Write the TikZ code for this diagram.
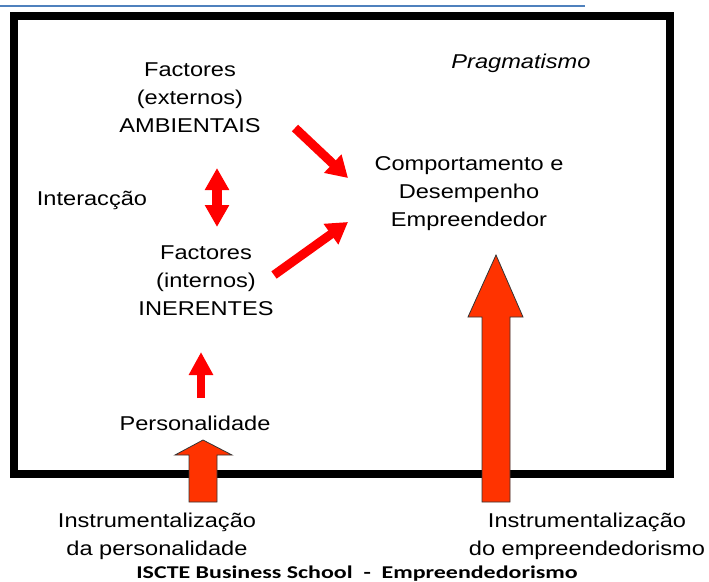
\documentclass[tikz,border=0pt]{standalone}
\usepackage{fontspec}
\setmainfont{Liberation Sans}[FakeStretch=1.18]
\newfontfamily\footfont{Carlito}[FakeStretch=1.33]
\usetikzlibrary{arrows.meta}
\definecolor{rulebl}{HTML}{4F81BD}
\definecolor{bigor}{HTML}{FF3300}
\tikzset{
    txt/.style={align=center,inner sep=0pt,font=\fontsize{20}{28}\selectfont},
    redarr/.style={red,line width=9pt,-{Triangle[width=24pt,length=21pt]}},
    bigarr/.style={fill=bigor,draw=black!80,line width=0.8pt,line join=miter}
}
\begin{document}
\begin{tikzpicture}[x=1pt,y=-1pt]
        \useasboundingbox (0,0) rectangle (709,581);
        %% Top rule
        \draw[rulebl,line width=1.3pt] (0,6) -- (585,6);
        %% Labels
        \node[txt] (ext)   at (190,98)  {Factores\\(externos)\\AMBIENTAIS};
        \node[txt] (inter) at (92,200)  {Interacção};
        \node[txt] (inh)   at (206,281) {Factores\\(internos)\\INERENTES};
        \node[txt,font=\fontsize{20}{28}\selectfont\itshape] (prag) at (521,63) {Pragmatismo};
        \node[txt] (comp)  at (469,194) {Comportamento e\\Desempenho\\Empreendedor};
        \node[txt] (pers)  at (195,423) {Personalidade};
        \node[txt] (instp) at (157,536) {Instrumentalização\\da personalidade};
        \node[txt] (inste) at (587,536) {Instrumentalização\\do empreendedorismo};
        \node[anchor=base,inner sep=0pt,font=\footfont\bfseries\fontsize{18}{20}\selectfont] (foot) at (357,578)
            {ISCTE Business School\ \ -\ \ Empreendedorismo};
        %% Arrow ends
        \coordinate (e1) at (295,128);  \coordinate (c1) at (348,178);
        \coordinate (i1) at (274,275);  \coordinate (c2) at (348,222);
        \coordinate (d1) at (217,168);  \coordinate (d2) at (217,227);
        \coordinate (p1) at (201,398);  \coordinate (p2) at (201,352);
        %% Frame
        \draw[line width=8pt] (14,16) rectangle (670,474);
        %% Red arrows
        \draw[redarr] (e1) -- (c1);
        \draw[redarr] (i1) -- (c2);
        \draw[redarr,line width=10pt,{Triangle[width=23pt,length=22pt]}-{Triangle[width=23pt,length=22pt]}] (d1) -- (d2);
        \draw[redarr,line width=8pt,-{Triangle[width=23pt,length=23pt]}] (p1) -- (p2);
        %% Big arrows
        \draw[bigarr] (189,502) -- (189,455) -- (175,455) -- (203,440) -- (232,455) -- (217,455) -- (217,502) -- cycle;
        \draw[bigarr] (482,502) -- (482,317) -- (468,317) -- (496,255) -- (523,317) -- (510,317) -- (510,502) -- cycle;
    \end{tikzpicture}
\end{document}
